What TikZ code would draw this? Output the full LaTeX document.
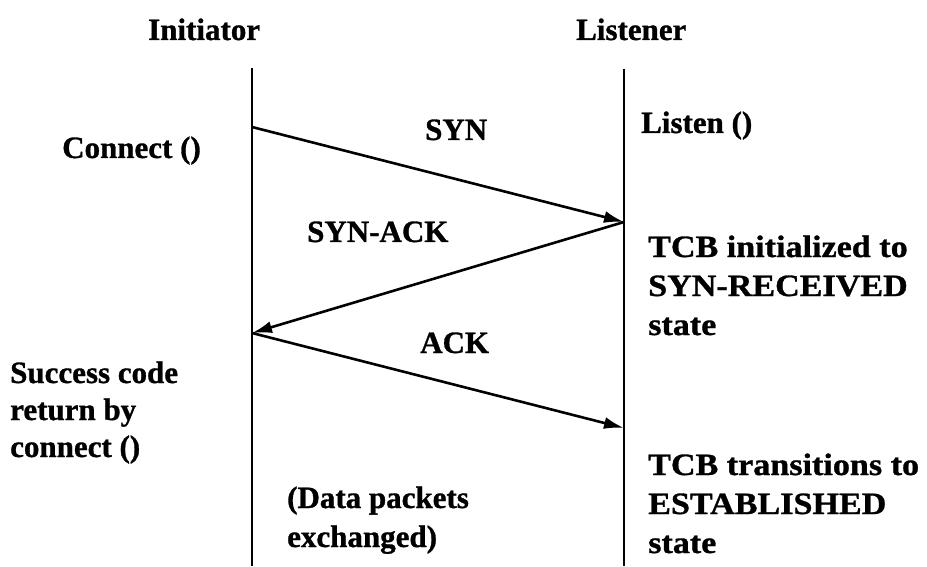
\documentclass[tikz,border=0pt]{standalone}
\usepackage{fontspec}
\setmainfont{Liberation Serif}[BoldFeatures={FakeBold=1}]
\newfontfamily\widefont{Liberation Serif}[FakeStretch=1.1,BoldFeatures={FakeBold=1}]
\usetikzlibrary{arrows.meta}
\begin{document}
\begin{tikzpicture}[x=1pt,y=1pt,
  lbl/.style={font=\fontsize{31}{37}\selectfont\bfseries, inner sep=0pt, anchor=base west, align=left},
  widelbl/.style={lbl, font=\widefont\fontsize{31}{39}\selectfont\bfseries},
  life/.style={line width=2pt},
  msg/.style={line width=2.6pt, -{Latex[length=20pt,width=12pt]}}]
\useasboundingbox (0,0) rectangle (927,566);

% lifelines
\coordinate (itop) at (252,498);
\coordinate (ibot) at (252,0);
\coordinate (ltop) at (624,497);
\coordinate (lbot) at (624,0);
\draw[life] (itop) -- (ibot);
\draw[life] (ltop) -- (lbot);

% message end points on the lifelines
\coordinate (a1) at (252,439);
\coordinate (b1) at (624,344);
\coordinate (a2) at (252,233);
\coordinate (b2) at (624,138);

% handshake messages
\draw[msg] (a1) -- (b1);
\draw[msg] (b1) -- (a2);
\draw[msg] (a2) -- (b2);

% headings
\node[lbl] (init) at (148,526) {Initiator};
\node[lbl] (list) at (576,526) {Listener};

% message labels
\node[lbl] (syn) at (425,426) {SYN};
\node[lbl] (synack) at (307,324) {SYN-ACK};
\node[lbl] (ack) at (420,213) {ACK};

% initiator side (base anchor sits on the last line)
\node[lbl] (conn) at (62,408) {Connect ()};
\node[lbl] (succ) at (10,109) {Success code\\return by\\connect ()};

% listener side
\node[lbl] (listen) at (641,433) {Listen ()};
\node[widelbl] (tcb1) at (648,231) {TCB initialized to\\SYN-RECEIVED\\state};
\node[widelbl] (tcb2) at (648,13) {TCB transitions to\\ESTABLISHED\\state};

% between the lifelines
\node[lbl, font=\fontsize{31}{39}\selectfont\bfseries] (data) at (287,19) {(Data packets\\exchanged)};
\end{tikzpicture}
\end{document}
